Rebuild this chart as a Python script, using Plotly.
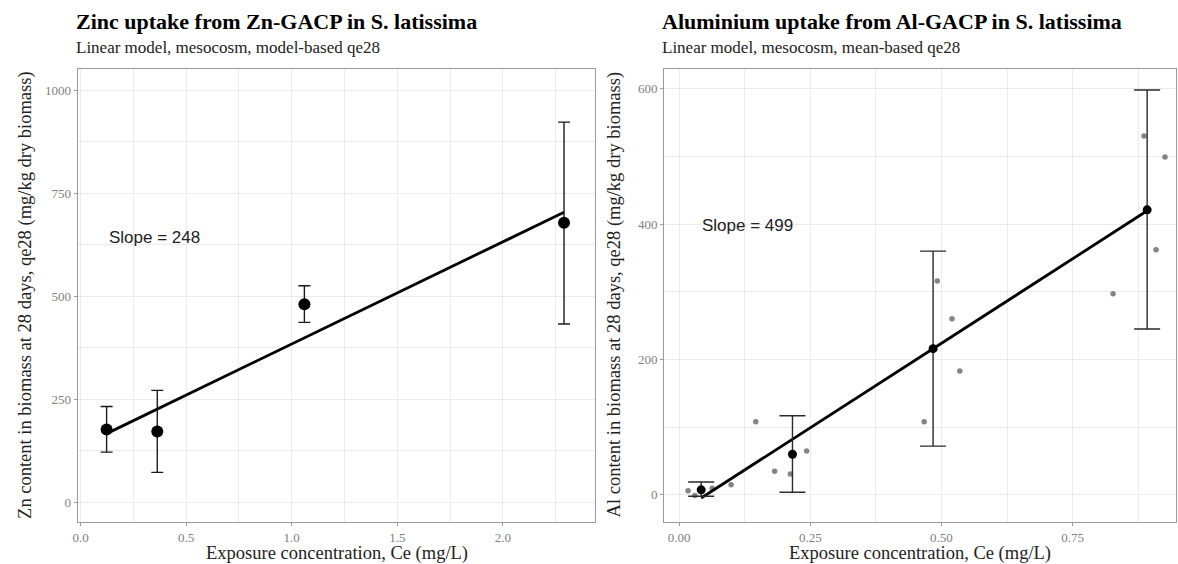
import plotly.graph_objects as go

# ---------------- Data: Zinc panel ----------------
zn_ce = [0.123, 0.363, 1.06, 2.29]
zn_qe = [176, 171, 480, 678]
zn_lower = [121, 72, 436, 432]
zn_upper = [232, 271, 525, 922]
zn_slope = 248
zn_intercept = 135.5

# ---------------- Data: Aluminium panel ----------------
al_ce = [0.042, 0.216, 0.484, 0.892]
al_qe = [7.5, 60, 216, 421]
al_lower = [-2, 4, 72, 245]
al_upper = [19, 117, 360, 598]
al_rep_ce = [0.017, 0.030, 0.063, 0.099, 0.146, 0.182, 0.212, 0.243,
             0.467, 0.492, 0.520, 0.535, 0.827, 0.886, 0.909, 0.926]
al_rep_qe = [6, -1, 10, 15, 108, 35, 31, 65,
             108, 316, 260, 183, 297, 530, 362, 499]
al_slope = 499
al_intercept = -25.5

SERIF = "Liberation Serif, Times New Roman, serif"
SANS = "Liberation Sans, Arial, sans-serif"

fig = go.Figure()

def fit_line(xs, slope, intercept):
    x0, x1 = min(xs), max(xs)
    return [x0, x1], [intercept + slope * x0, intercept + slope * x1]

# Zinc fit line
lx, ly = fit_line(zn_ce, zn_slope, zn_intercept)
fig.add_trace(go.Scatter(x=lx, y=ly, mode="lines", line=dict(color="black", width=2.8),
                         xaxis="x", yaxis="y", showlegend=False))
# Zinc means with error bars
fig.add_trace(go.Scatter(
    x=zn_ce, y=zn_qe, mode="markers",
    marker=dict(color="black", size=12),
    error_y=dict(type="data", symmetric=False,
                 array=[u - m for u, m in zip(zn_upper, zn_qe)],
                 arrayminus=[m - l for m, l in zip(zn_qe, zn_lower)],
                 color="#1a1a1a", thickness=1.4, width=6),
    xaxis="x", yaxis="y", showlegend=False))

# Aluminium replicates
fig.add_trace(go.Scatter(x=al_rep_ce, y=al_rep_qe, mode="markers",
                         marker=dict(color="#6e6e6e", size=5.5, opacity=0.85),
                         xaxis="x2", yaxis="y2", showlegend=False))
# Aluminium fit line
lx, ly = fit_line(al_ce, al_slope, al_intercept)
fig.add_trace(go.Scatter(x=lx, y=ly, mode="lines", line=dict(color="black", width=2.8),
                         xaxis="x2", yaxis="y2", showlegend=False))
# Aluminium means with error bars
fig.add_trace(go.Scatter(
    x=al_ce, y=al_qe, mode="markers",
    marker=dict(color="black", size=9),
    error_y=dict(type="data", symmetric=False,
                 array=[u - m for u, m in zip(al_upper, al_qe)],
                 arrayminus=[m - l for m, l in zip(al_qe, al_lower)],
                 color="#2a2a2a", thickness=1.4, width=13),
    xaxis="x2", yaxis="y2", showlegend=False))

W, H = 1178, 564
def px_x(p):
    return p / W
def px_y(p):
    return 1 - p / H

grid = "#ebebeb"
border = "#9a9a9a"
tickfont = dict(family=SERIF, size=13, color="#808080")

common = dict(showgrid=True, gridcolor=grid, gridwidth=1, zeroline=False,
              showline=True, linecolor=border, linewidth=1.2, mirror=True,
              ticks="outside", ticklen=3, tickcolor=border, tickwidth=1,
              tickfont=tickfont)

fig.update_layout(
    width=W, height=H,
    margin=dict(l=0, r=0, t=0, b=0),
    paper_bgcolor="white", plot_bgcolor="white",
    xaxis=dict(domain=[px_x(73), px_x(593)], range=[-0.014, 2.439],
               tickmode="array", tickvals=[0, 0.5, 1, 1.5, 2],
               ticktext=["0.0", "0.5", "1.0", "1.5", "2.0"],
               minor=dict(showgrid=True, gridcolor=grid, gridwidth=0.6,
                          tickmode="array", tickvals=[0.25, 0.75, 1.25, 1.75, 2.25]),
               anchor="y", **common),
    yaxis=dict(domain=[px_y(522), px_y(69)], range=[-48.5, 1051],
               tickmode="array", tickvals=[0, 250, 500, 750, 1000],
               minor=dict(showgrid=True, gridcolor=grid, gridwidth=0.6,
                          tickmode="array", tickvals=[125, 375, 625, 875]),
               anchor="x", **common),
    xaxis2=dict(domain=[px_x(662), px_x(1176)], range=[-0.0285, 0.947],
                tickmode="array", tickvals=[0, 0.25, 0.5, 0.75],
                ticktext=["0.00", "0.25", "0.50", "0.75"],
                minor=dict(showgrid=True, gridcolor=grid, gridwidth=0.6,
                           tickmode="array", tickvals=[0.125, 0.375, 0.625, 0.875]),
                anchor="y2", **common),
    yaxis2=dict(domain=[px_y(522), px_y(69)], range=[-40, 629],
                tickmode="array", tickvals=[0, 200, 400, 600],
                minor=dict(showgrid=True, gridcolor=grid, gridwidth=0.6,
                           tickmode="array", tickvals=[100, 300, 500]),
                anchor="x2", **common),
)

TXT = "#222"
annotations = [
    # titles
    dict(text="<b>Zinc uptake from Zn-GACP in S. latissima</b>", x=px_x(69), y=px_y(21),
         xanchor="left", yanchor="middle", font=dict(family=SERIF, size=22, color="black")),
    dict(text="Linear model, mesocosm, model-based qe28", x=px_x(69), y=px_y(47),
         xanchor="left", yanchor="middle", font=dict(family=SERIF, size=17, color=TXT)),
    dict(text="<b>Aluminium uptake from Al-GACP in S. latissima</b>", x=px_x(658), y=px_y(21),
         xanchor="left", yanchor="middle", font=dict(family=SERIF, size=22, color="black")),
    dict(text="Linear model, mesocosm, mean-based qe28", x=px_x(658), y=px_y(47),
         xanchor="left", yanchor="middle", font=dict(family=SERIF, size=17, color=TXT)),
    # x axis titles
    dict(text="Exposure concentration, Ce (mg/L)", x=px_x(333), y=px_y(553),
         xanchor="center", yanchor="middle", font=dict(family=SERIF, size=18.5, color=TXT)),
    dict(text="Exposure concentration, Ce (mg/L)", x=px_x(919), y=px_y(553),
         xanchor="center", yanchor="middle", font=dict(family=SERIF, size=18.5, color=TXT)),
    # y axis titles
    dict(text="Zn content in biomass at 28 days, qe28 (mg/kg dry biomass)", x=px_x(20), y=px_y(295),
         xanchor="center", yanchor="middle", textangle=-90,
         font=dict(family=SERIF, size=18.5, color=TXT)),
    dict(text="Al content in biomass at 28 days, qe28 (mg/kg dry biomass)", x=px_x(612), y=px_y(295),
         xanchor="center", yanchor="middle", textangle=-90,
         font=dict(family=SERIF, size=18.5, color=TXT)),
]
for a in annotations:
    a.update(xref="paper", yref="paper", showarrow=False)

annotations += [
    dict(text="Slope = 248", x=0.35, y=641, xref="x", yref="y", showarrow=False,
         font=dict(family=SANS, size=17, color=TXT)),
    dict(text="Slope = 499", x=0.131, y=398, xref="x2", yref="y2", showarrow=False,
         font=dict(family=SANS, size=17, color=TXT)),
]
fig.update_layout(annotations=annotations)

fig.write_html(
    "out.html",
    config={"displayModeBar": False},
    post_script="document.body.style.margin='0';document.body.style.overflow='hidden';",
)
